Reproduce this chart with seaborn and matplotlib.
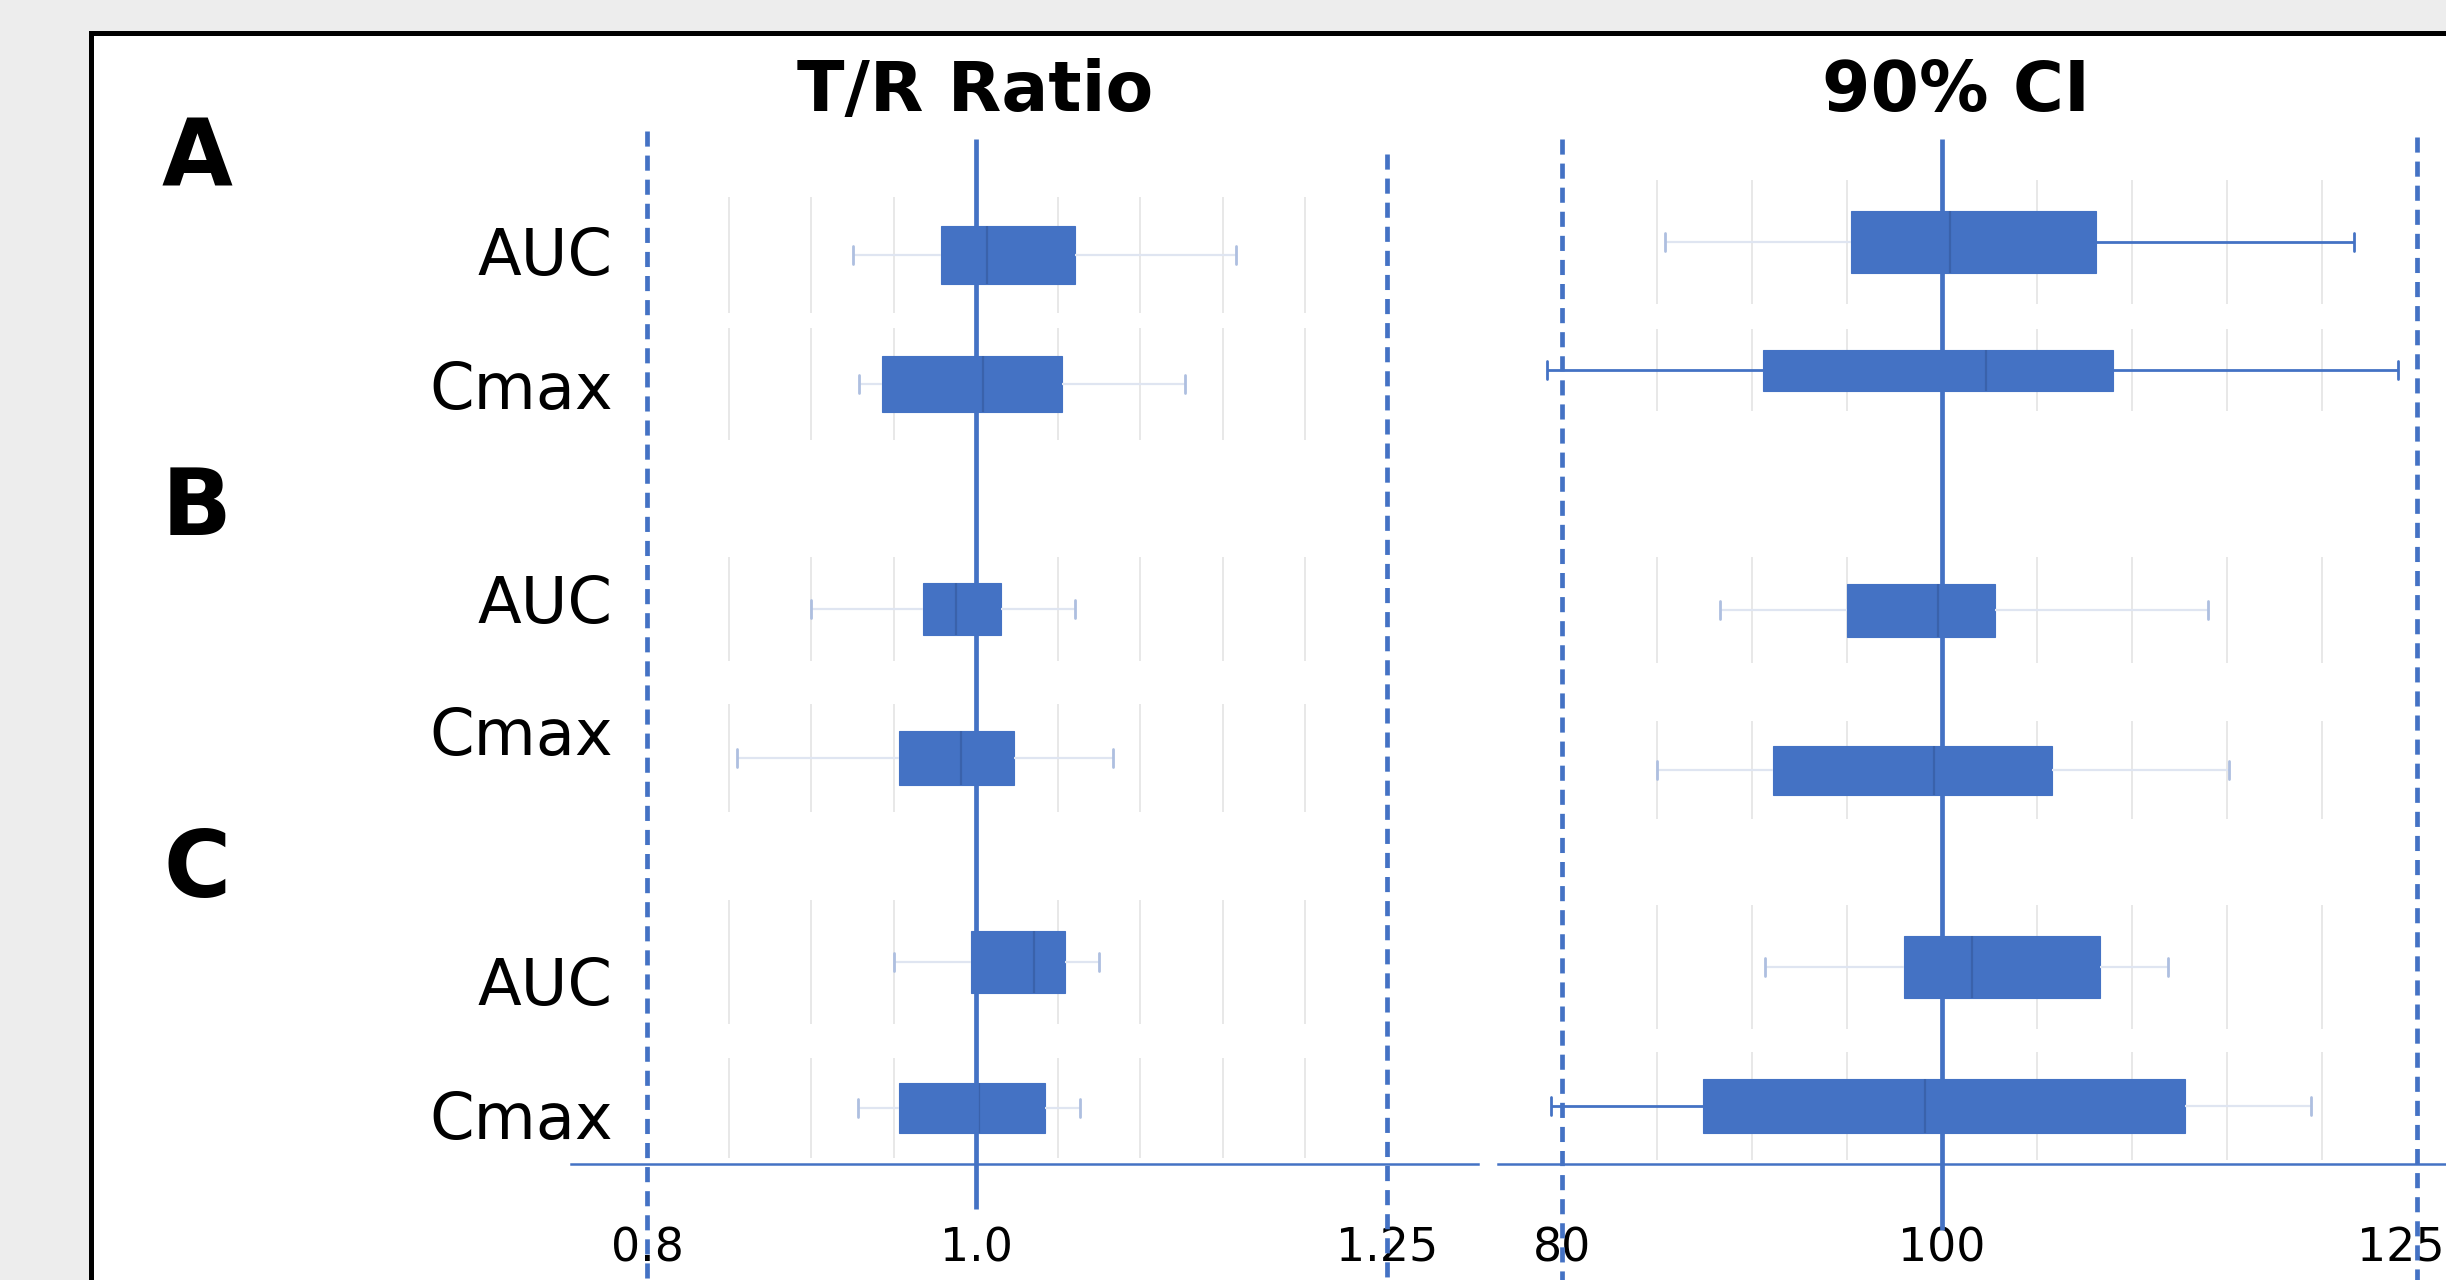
import numpy as np
import pandas as pd
import matplotlib
matplotlib.use("Agg")
import matplotlib.pyplot as plt
import matplotlib.transforms as mtransforms
from matplotlib.patches import Rectangle
import seaborn as sns

# --- Data: five-number summaries ---
GROUPS = ["A", "B", "C"]
PARAMS = ["AUC", "Cmax", "AUC", "Cmax", "AUC", "Cmax"]

# T/R ratio: whisker low, Q1, median, Q3, whisker high
TR_LOW = [0.925, 0.929, 0.900, 0.855, 0.950, 0.928]
TR_Q1 = [0.979, 0.943, 0.968, 0.953, 0.997, 0.953]
TR_MED = [1.007, 1.004, 0.988, 0.991, 1.035, 1.002]
TR_Q3 = [1.060, 1.052, 1.015, 1.023, 1.054, 1.042]
TR_HIGH = [1.158, 1.127, 1.060, 1.083, 1.075, 1.063]

# 90% CI (%)
CI_LOW = [85.4, 79.2, 88.3, 85.0, 90.7, 79.4]
CI_Q1 = [95.2, 90.6, 95.0, 91.1, 98.0, 87.4]
CI_MED = [100.4, 102.3, 99.8, 99.6, 101.6, 99.1]
CI_Q3 = [108.1, 109.0, 102.8, 105.8, 108.3, 112.8]
CI_HIGH = [121.7, 124.0, 114.0, 115.1, 111.9, 119.4]

TR_TICKS = [0.8, 1.0, 1.25]
TR_TICK_LABELS = ["0.8", "1.0", "1.25"]
CI_TICKS = [80, 100, 125]
CI_TICK_LABELS = ["80", "100", "125"]

# --- Layout (figure pixels, y measured from the top) ---
W, H = 2446, 1280
AX_TOP, AX_BOTTOM = 100, 1164
TR_ROWS = [255, 384, 609, 758, 962, 1108]
TR_BOX_H = [58, 56, 52, 54, 62, 50]
CI_ROWS = [242, 370, 610, 770, 967, 1106]
CI_BOX_H = [62, 41, 53, 49, 62, 54]
LABEL_ROWS = [251, 385, 598, 731, 981, 1115]
GROUP_BASELINES = [185, 535, 897]

# --- Styles ---
BLUE = "#4472C4"
MED_COLOR = "#3a62ab"
WHISKER_FAINT = "#dfe5f1"
CAP_FAINT = "#aebfe0"
GRID_COLOR = "#e6e6e6"
# which whiskers are drawn strong
CI_STRONG = [("hi",), ("lo", "hi"), (), (), (), ("lo",)]
TR_STRONG = [(), (), (), (), (), ()]


def draw_panel(ax, lows, q1s, meds, q3s, highs, rows, heights, strong, grid_x):
    for i in range(len(rows)):
        # faint per-row gridlines
        ax.vlines(grid_x, rows[i] - heights[i], rows[i] + heights[i],
                  color=GRID_COLOR, linewidth=1.3, zorder=0.5)
        vals = [lows[i], q1s[i], meds[i], q3s[i], highs[i]]
        df = pd.DataFrame({"value": vals, "row": rows[i]})
        n0 = len(ax.lines)
        sns.boxplot(data=df, x="value", y="row", orient="y", native_scale=True,
                    width=heights[i], whis=(0, 100), color=BLUE, saturation=1,
                    linecolor=BLUE, linewidth=0.8, ax=ax, showfliers=False,
                    medianprops=dict(color=MED_COLOR, linewidth=1.6),
                    whiskerprops=dict(color=WHISKER_FAINT, linewidth=1.6),
                    capprops=dict(color=CAP_FAINT, linewidth=2.0),
                    capwidths=18, zorder=2)
        ends = {"lo": lows[i], "hi": highs[i]}
        for line in ax.lines[n0:]:
            xd = np.asarray(line.get_xdata(), dtype=float)
            if len(xd) != 2:
                continue
            for side in strong[i]:
                if np.isclose(xd, ends[side]).any():
                    line.set_color(BLUE)
                    line.set_linewidth(2.0)


sns.set_style("white")
plt.rcParams["font.family"] = ["DejaVu Sans"]
plt.rcParams["text.color"] = "black"
plt.rcParams["xtick.color"] = "black"
plt.rcParams["ytick.color"] = "black"

fig = plt.figure(figsize=(W / 100, H / 100), dpi=100, facecolor="#ededed")
fig.add_artist(Rectangle((91 / W, -0.1), 1.0, 1 - 33 / H + 0.1,
                         transform=fig.transFigure, facecolor="white",
                         edgecolor="black", linewidth=3.6, zorder=-1))

ax_h = (AX_BOTTOM - AX_TOP) / H
ax_y = 1 - AX_BOTTOM / H
ax1 = fig.add_axes([571 / W, ax_y, (1478 - 571) / W, ax_h])
ax2 = fig.add_axes([1498 / W, ax_y, (W - 1498) / W, ax_h])

draw_panel(ax1, TR_LOW, TR_Q1, TR_MED, TR_Q3, TR_HIGH, TR_ROWS, TR_BOX_H,
           TR_STRONG, [0.85, 0.90, 0.95, 1.0, 1.05, 1.10, 1.15, 1.20])
draw_panel(ax2, CI_LOW, CI_Q1, CI_MED, CI_Q3, CI_HIGH, CI_ROWS, CI_BOX_H,
           CI_STRONG, [85, 90, 95, 100, 105, 110, 115, 120])

# reference lines (limits dashed, unity solid)
dash = (0, (3.2, 1.9))
ax1.vlines(0.8, 131, 1280, color=BLUE, linewidth=3.4, linestyles=dash, clip_on=False, zorder=3)
ax1.vlines(1.0, 139, 1209, color=BLUE, linewidth=3.4, clip_on=False, zorder=3)
ax1.vlines(1.25, 154, 1280, color=BLUE, linewidth=3.4, linestyles=dash, clip_on=False, zorder=3)
ax2.vlines(80, 139, 1280, color=BLUE, linewidth=3.4, linestyles=dash, clip_on=False, zorder=3)
ax2.vlines(100, 139, 1230, color=BLUE, linewidth=3.4, clip_on=False, zorder=3)
ax2.vlines(125, 137, 1280, color=BLUE, linewidth=3.4, linestyles=dash, clip_on=False, zorder=3)

ax1.set_xlim(0.7538, 1.3052)
ax2.set_xlim(76.63, 126.53)
for ax, ticks, labels in [(ax1, TR_TICKS, TR_TICK_LABELS), (ax2, CI_TICKS, CI_TICK_LABELS)]:
    ax.set_ylim(AX_BOTTOM, AX_TOP)
    ax.set_facecolor("none")
    ax.set_xlabel("")
    ax.set_ylabel("")
    for side in ["top", "left", "right"]:
        ax.spines[side].set_visible(False)
    ax.spines["bottom"].set_color(BLUE)
    ax.spines["bottom"].set_linewidth(1.8)
    ax.set_xticks(ticks, labels)
    ax.tick_params(axis="x", length=0, pad=45, labelsize=33)
    ax.set_yticks([])

# keep the last label inside the picture
last = ax2.get_xticklabels()[-1]
last.set_transform(last.get_transform() +
                   mtransforms.ScaledTranslation(-16 / 100, 0, fig.dpi_scale_trans))

ax1.set_yticks(LABEL_ROWS, PARAMS)
ax1.tick_params(axis="y", length=0, pad=-30, labelsize=46)

fig.text(975 / W, 1 - 111 / H, "T/R Ratio", fontsize=50, fontweight="bold",
         ha="center", va="baseline")
fig.text(1956 / W, 1 - 111 / H, "90% CI", fontsize=50, fontweight="bold",
         ha="center", va="baseline")

for g, base in zip(GROUPS, GROUP_BASELINES):
    fig.text(197 / W, 1 - base / H, g, fontsize=66, fontweight="bold",
             ha="center", va="baseline")

fig.savefig("out.png", dpi=100, facecolor=fig.get_facecolor())
